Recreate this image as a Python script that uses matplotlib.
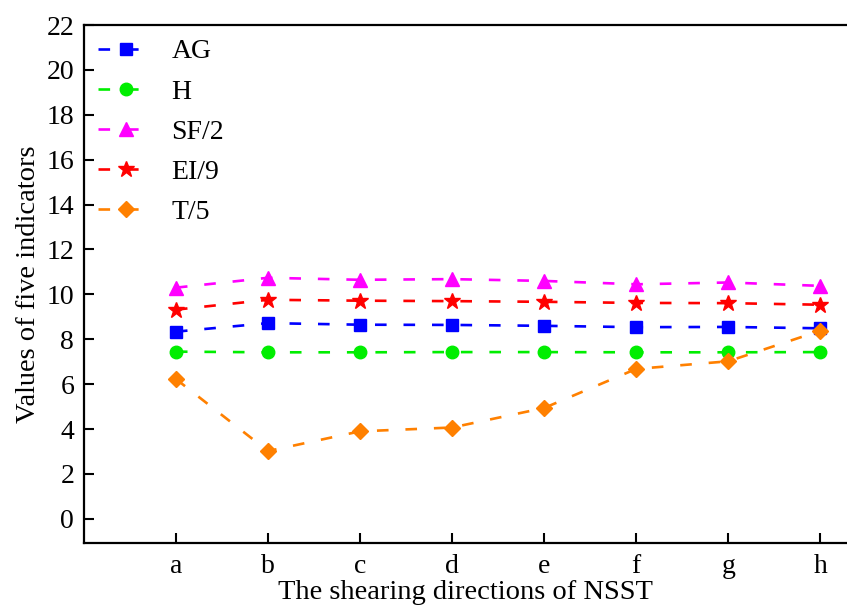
import numpy as np
from matplotlib import pyplot as plt

plt.rcParams['font.family'] = ['Liberation Serif', 'DejaVu Serif']

directions = ['a', 'b', 'c', 'd', 'e', 'f', 'g', 'h']
ag = [8.34, 8.72, 8.65, 8.64, 8.60, 8.54, 8.55, 8.49]
h = [7.45, 7.42, 7.42, 7.43, 7.43, 7.42, 7.42, 7.43]
sf_half = [10.30, 10.74, 10.65, 10.68, 10.60, 10.45, 10.53, 10.38]
ei_ninth = [9.32, 9.76, 9.72, 9.70, 9.67, 9.62, 9.61, 9.54]
t_fifth = [6.23, 3.02, 3.90, 4.07, 4.94, 6.68, 7.02, 8.38]

x = np.arange(1, len(directions) + 1)

fig = plt.figure(figsize=(8.47, 6.10), dpi=100)
ax = fig.add_axes([0.099, 0.110, 0.901, 0.849])

dash = (4.4, 6.4)
lw = 1.9
series = [
    (ag, 's', '#0000ff', 'AG', 8.5),
    (h, 'o', '#00ee00', 'H', 9),
    (sf_half, '^', '#ff00ff', 'SF/2', 10),
    (ei_ninth, '*', '#ff0000', 'EI/9', 12),
    (t_fifth, 'D', '#ff8000', 'T/5', 8.5),
]
for vals, m, c, lab, ms in series:
    line, = ax.plot(x, vals, marker=m, color=c, label=lab, lw=lw,
                    markersize=ms, linestyle='--')
    line.set_dashes(dash)

ax.set_xlim(0, 8.29)
ax.set_ylim(-1.07, 22)
ax.set_xticks(x)
ax.set_xticklabels(directions)
ax.set_yticks(np.arange(0, 23, 2))
ax.tick_params(direction='in', length=7, width=1.5, labelsize=20)
ax.tick_params(axis='x', pad=8)
ax.tick_params(axis='y', pad=7)
for s in ['left', 'bottom', 'top']:
    ax.spines[s].set_linewidth(1.6)
ax.spines['right'].set_visible(False)

ax.set_xlabel('The shearing directions of NSST', fontsize=20.5, labelpad=1)
ax.set_ylabel('Values of five indicators', fontsize=20.5, labelpad=4)

ax.legend(loc='upper left', frameon=False, fontsize=20, handlelength=2.0,
          labelspacing=0.53, borderaxespad=0.15, handletextpad=0.65,
          borderpad=0.35, bbox_to_anchor=(0.0, 1.0))

plt.savefig('out.png')
